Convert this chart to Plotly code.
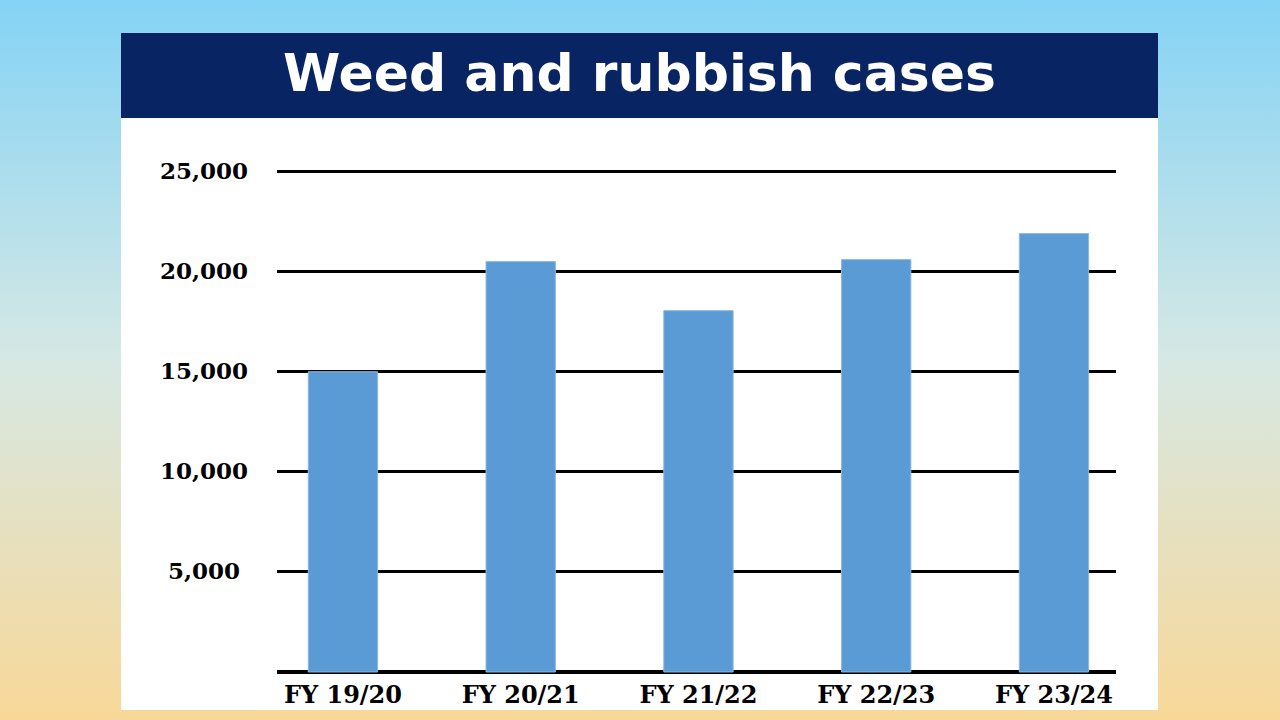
import base64
import plotly.graph_objects as go

# ---- data ----
categories = ["FY 19/20", "FY 20/21", "FY 21/22", "FY 22/23", "FY 23/24"]
cases = [15000, 20500, 18050, 20600, 21900]
tick_values = [5000, 10000, 15000, 20000, 25000]
tick_labels = ["5,000", "10,000", "15,000", "20,000", "25,000"]
title_text = "Weed and rubbish cases"

W, H = 1280, 720

# background gradient as an SVG image
svg = (
    '<svg xmlns="http://www.w3.org/2000/svg" width="1280" height="720" preserveAspectRatio="none">'
    '<defs><linearGradient id="g" x1="0" y1="0" x2="0" y2="1">'
    '<stop offset="0" stop-color="#84D3F5"/>'
    '<stop offset="0.5" stop-color="#D6E8E4"/>'
    '<stop offset="1" stop-color="#F8D898"/>'
    '</linearGradient></defs>'
    '<rect width="1280" height="720" fill="url(#g)"/></svg>'
)
svg_uri = "data:image/svg+xml;base64," + base64.b64encode(svg.encode()).decode()

fig = go.Figure()
fig.add_trace(go.Bar(
    x=categories, y=cases,
    width=0.39,
    marker=dict(color="#5B9BD5", line=dict(color="#8DB8E3", width=1)),
    hoverinfo="x+y",
))

def px(xp):
    return xp / W

def py(yp):
    return 1 - yp / H

shapes = [
    # white panel
    dict(type="rect", xref="paper", yref="paper", x0=px(121), x1=px(1158), y0=py(710), y1=py(33),
         fillcolor="white", line=dict(width=0), layer="below"),
    # title banner
    dict(type="rect", xref="paper", yref="paper", x0=px(121), x1=px(1158), y0=py(118), y1=py(33),
         fillcolor="#082462", line=dict(width=0), layer="below"),
]

annotations = [
    dict(text=title_text, xref="paper", yref="paper", x=px(639.5), y=py(73),
         xanchor="center", yanchor="middle", showarrow=False,
         font=dict(family="DejaVu Sans", size=52, color="white", weight="bold")),
]
for v, t in zip(tick_values, tick_labels):
    annotations.append(dict(text=t, xref="paper", yref="y", x=px(204), y=v,
                            xanchor="center", yanchor="middle", showarrow=False, yshift=1,
                            font=dict(family="DejaVu Serif", size=23, color="black", weight="bold")))

fig.update_layout(
    width=W, height=H, autosize=False,
    margin=dict(l=0, r=0, t=0, b=0),
    paper_bgcolor="rgba(0,0,0,0)",
    plot_bgcolor="rgba(0,0,0,0)",
    showlegend=False,
    images=[dict(source=svg_uri, xref="paper", yref="paper", x=0, y=1, sizex=1, sizey=1,
                 xanchor="left", yanchor="top", sizing="stretch", layer="below")],
    shapes=shapes,
    annotations=annotations,
    xaxis=dict(domain=[px(277), px(1116)], range=[-0.371, 4.349], showgrid=False,
               showline=False, zeroline=False, ticks="",
               tickfont=dict(family="DejaVu Serif", size=24, color="black", weight="bold")),
    yaxis=dict(domain=[py(678), py(151.5)], range=[-300, 26000], tickvals=tick_values,
               showticklabels=False, showgrid=True, gridcolor="black", gridwidth=3,
               zeroline=True, zerolinecolor="black", zerolinewidth=4, showline=False),
)

fig.write_html(
    "out.html",
    config={"displayModeBar": False},
    post_script="document.body.style.margin='0';document.body.style.overflow='hidden';",
)
